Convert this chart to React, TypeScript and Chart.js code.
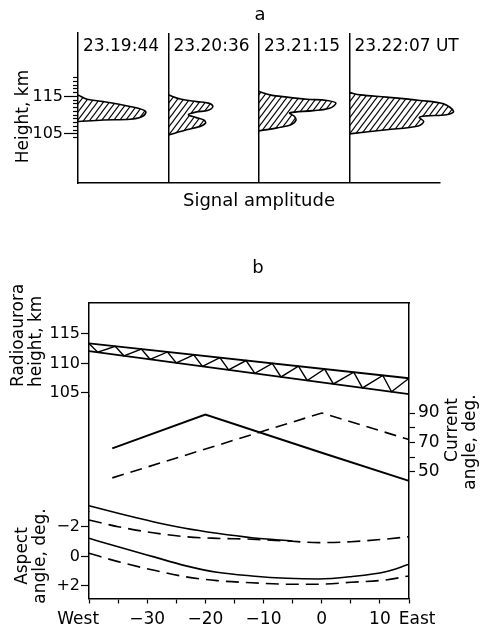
import React, { useEffect, useRef } from 'react';
import { Chart, registerables } from 'chart.js';

Chart.register(...registerables);

const FONT = "'DejaVu Sans', 'Noto Sans', sans-serif";
Chart.defaults.font.family = FONT;
Chart.defaults.color = '#000';

// ---------------- Panel a data ----------------
const timeLabels = ['23.19:44', '23.20:36', '23.21:15', '23.22:07 UT'];
const panelEdges = [0, 1, 2, 3, 4];
const heightTicksA = [104, 105, 106, 107, 108, 109, 110, 111, 112, 113, 114, 115, 116, 117, 118, 119, 120];
const heightLabelsA = [105, 115];

const profile1Amp = [0, 0.1, 0.28, 0.575, 0.72, 0.75, 0.7, 0.575, 0.28, 0];
const profile1Height = [115.4, 114.25, 113.6, 112.3, 111.4, 110.7, 109.5, 108.9, 108.7, 108.3];
const profile2Amp = [0, 0.13, 0.31, 0.44, 0.49, 0.44, 0.3, 0.22, 0.3, 0.39, 0.41, 0.35, 0.2, 0];
const profile2Height = [115.4, 114.3, 113.6, 113.2, 112.3, 111.3, 110.8, 110.1, 109.4, 108.7, 107.9, 107.0, 106.1, 104.7];
const profile3Amp = [0, 0.12, 0.31, 0.53, 0.75, 0.85, 0.78, 0.6, 0.34, 0.39, 0.41, 0.36, 0.2, 0];
const profile3Height = [116.3, 115.4, 114.8, 114.25, 113.9, 113.2, 111.85, 111.2, 110.6, 109.7, 108.7, 107.5, 106.6, 105.8];
const profile4Amp = [0, 0.12, 0.41, 0.78, 1.04, 1.15, 1.07, 0.85, 0.77, 0.82, 0.76, 0.41, 0];
const profile4Height = [116.0, 115.4, 114.8, 113.9, 113.0, 111.0, 110.1, 109.8, 109.4, 108.3, 107.1, 106.1, 105.0];

// ---------------- Panel b data ----------------
const xTicksB = [-40, -35, -30, -25, -20, -15, -10, -5, 0, 5, 10, 15];
const xLabelValuesB = [-40, -30, -20, -10, 0, 10, 15];
const xLabelTextsB = ['West', '\u221230', '\u221220', '\u221210', '0', '10', 'East'];

const heightTicksB = [105, 110, 115];
const currentTicks = [50, 60, 70, 80, 90];
const currentLabels = [50, 70, 90];
const aspectTicks = [-2, 0, 2];
const aspectTickTexts = ['\u22122', '0', '+2'];

const bandX = [-40, 15];
const bandUpper = [113.4, 107.5];
const bandLower = [112.1, 104.8];
const zigX = [-40, -38.5, -35.5, -34, -31, -29.5, -26.5, -25, -22, -20.5, -17.5, -16, -13, -11.5, -8.5, -7, -4, -2.5, 0.5, 2, 5.5, 7, 10.5, 12, 15];
const zigY = [113.4, 111.9, 112.92, 111.3, 112.43, 110.71, 111.95, 110.11, 111.47, 109.51, 110.99, 108.91, 110.5, 108.32, 110.02, 107.72, 109.54, 107.12, 109.06, 106.53, 108.52, 105.86, 107.98, 105.2, 107.5];

const currentSolidX = [-36, -20, 0, 15];
const currentSolid = [66, 89, 63, 44];
const currentDashedX = [-36, 0, 15];
const currentDashed = [46, 90, 72];

const aspectUpperSolidX = [-40, -35, -29, -23.5, -18, -12, -5];
const aspectUpperSolid = [-3.44, -2.93, -2.36, -1.91, -1.57, -1.27, -1.05];
const aspectX = [-40, -35, -29, -23.5, -18, -12, -6, -0.5, 5, 11, 15];
const aspectUpperDashed = [-2.47, -2.02, -1.61, -1.34, -1.23, -1.17, -1.05, -0.94, -1.0, -1.18, -1.34];
const aspectLowerSolid = [-1.23, -0.66, 0.01, 0.62, 1.07, 1.32, 1.48, 1.53, 1.37, 1.03, 0.53];
const aspectLowerDashed = [-0.22, 0.35, 0.92, 1.37, 1.64, 1.78, 1.88, 1.88, 1.75, 1.59, 1.32];

type TextItem = { text: string; x: number; y: number; rot?: number; align?: CanvasTextAlign; size?: number };

function textPlugin(id: string, items: (chart: any) => TextItem[]) {
  return {
    id,
    afterDraw(chart: any) {
      const ctx = chart.ctx as CanvasRenderingContext2D;
      for (const it of items(chart)) {
        ctx.save();
        ctx.translate(it.x, it.y);
        if (it.rot) ctx.rotate(it.rot);
        ctx.font = `${it.size ?? 17}px ${FONT}`;
        ctx.fillStyle = '#000';
        ctx.textAlign = it.align ?? 'center';
        ctx.textBaseline = 'middle';
        ctx.fillText(it.text, 0, 0);
        ctx.restore();
      }
    },
  };
}

function makeHatch(ctx: CanvasRenderingContext2D): CanvasPattern | string {
  const c = document.createElement('canvas');
  c.width = 6;
  c.height = 8;
  const g = c.getContext('2d')!;
  g.strokeStyle = '#000';
  g.lineWidth = 1.1;
  for (const dx of [-6, 0, 6]) {
    g.beginPath();
    g.moveTo(dx - 3, 12);
    g.lineTo(dx + 9, -4);
    g.stroke();
  }
  return ctx.createPattern(c, 'repeat') ?? '#999';
}

const pts = (xs: number[], ys: number[]) => xs.map((x, i) => ({ x, y: ys[i] }));
const TRANSPARENT = 'rgba(0,0,0,0)';

function configA(hatch: CanvasPattern | string): any {
  const profiles = [
    [profile1Amp, profile1Height],
    [profile2Amp, profile2Height],
    [profile3Amp, profile3Height],
    [profile4Amp, profile4Height],
  ];
  const datasets = profiles.map(([amp, h], i) => ({
    data: amp.map((a, k) => ({ x: i + a, y: h[k] })),
    borderColor: '#000',
    borderWidth: 1.6,
    backgroundColor: hatch,
    fill: 'shape',
    tension: 0.35,
    pointRadius: 0,
    clip: false,
    xAxisID: 'x',
    yAxisID: 'y',
  }));
  return {
    type: 'line',
    data: { datasets },
    options: {
      animation: false,
      responsive: false,
      devicePixelRatio: 1,
      layout: { padding: { top: 33, right: 23, left: 0, bottom: 0 } },
      plugins: { legend: { display: false }, tooltip: { enabled: false } },
      scales: {
        x: {
          type: 'linear',
          position: 'bottom',
          min: 0,
          max: 4,
          stack: 'a',
          stackWeight: 362,
          afterBuildTicks: (s: any) => {
            s.ticks = panelEdges.map((v) => ({ value: v }));
          },
          ticks: { display: false },
          grid: {
            drawTicks: false,
            lineWidth: 1.5,
            color: (c: any) => (c.tick && c.tick.value > 0 && c.tick.value < 4 ? '#000' : TRANSPARENT),
          },
          border: { display: true, color: '#000', width: 1.5 },
          title: { display: true, text: 'Signal amplitude', font: { family: FONT, size: 18 }, color: '#000', padding: 0 },
          afterFit: (s: any) => {
            s.height = 29;
          },
        },
        x2: {
          type: 'linear',
          position: 'bottom',
          min: 0,
          max: 1,
          stack: 'a',
          stackWeight: 20,
          ticks: { display: false },
          grid: { display: false, drawTicks: false },
          border: { display: false },
          afterFit: (s: any) => {
            s.height = 0;
          },
        },
        y: {
          type: 'linear',
          position: 'left',
          min: 91.9,
          max: 131.9,
          afterBuildTicks: (s: any) => {
            s.ticks = heightTicksA.map((v) => ({ value: v }));
          },
          ticks: {
            autoSkip: false,
            padding: 1,
            font: { family: FONT, size: 16 },
            color: '#000',
            callback: (v: number) => (heightLabelsA.includes(v) ? String(v) : ''),
          },
          grid: {
            drawOnChartArea: false,
            tickLength: 14,
            tickColor: '#000',
            tickWidth: 1.2,
            tickBorderDash: (c: any) => (c.tick && heightLabelsA.includes(c.tick.value) ? [] : [5, 9]),
            tickBorderDashOffset: (c: any) => (c.tick && heightLabelsA.includes(c.tick.value) ? 0 : 5),
          },
          border: { color: '#000', width: 1.5 },
          afterFit: (s: any) => {
            s.width = 78;
          },
        },
      },
    },
    plugins: [
      textPlugin('textsA', (chart) => {
        const xs = chart.scales.x;
        const items: TextItem[] = [{ text: 'a', x: 260, y: 15, size: 18 }];
        timeLabels.forEach((t, i) => {
          items.push({ text: t, x: xs.getPixelForValue(i) + 5, y: 47, align: 'left', size: 17 });
        });
        items.push({ text: 'Height, km', x: 24, y: 116.5, rot: -Math.PI / 2, size: 17 });
        return items;
      }),
    ],
  };
}

function configB(): any {
  const line = (data: any[], yAxisID: string, extra: any = {}) => ({
    data,
    yAxisID,
    xAxisID: 'x',
    borderColor: '#000',
    borderWidth: 1.6,
    pointRadius: 0,
    fill: false,
    tension: 0,
    clip: false,
    ...extra,
  });
  const datasets = [
    line(pts(bandX, bandUpper), 'yH', { borderWidth: 1.8 }),
    line(pts(bandX, bandLower), 'yH', { borderWidth: 1.8 }),
    line(pts(zigX, zigY), 'yH', { borderWidth: 1.4 }),
    line(pts(currentSolidX, currentSolid), 'yC', { borderWidth: 2 }),
    line(pts(currentDashedX, currentDashed), 'yC', { borderDash: [12, 7] }),
    line(pts(aspectUpperSolidX, aspectUpperSolid), 'yA', { cubicInterpolationMode: 'monotone' }),
    line(pts(aspectX, aspectUpperDashed), 'yA', { cubicInterpolationMode: 'monotone', borderDash: [13, 7] }),
    line(pts(aspectX, aspectLowerSolid), 'yA', { cubicInterpolationMode: 'monotone' }),
    line(pts(aspectX, aspectLowerDashed), 'yA', { cubicInterpolationMode: 'monotone', borderDash: [13, 7] }),
  ];
  const leftCommon = (width: number) => ({
    type: 'linear',
    position: 'left',
    stack: 'L',
    border: { color: '#000', width: 1.5 },
    afterFit: (s: any) => {
      s.width = width;
    },
  });
  return {
    type: 'line',
    data: { datasets },
    options: {
      animation: false,
      responsive: false,
      devicePixelRatio: 1,
      layout: { padding: { top: 91, right: 0, left: 0, bottom: 0 } },
      plugins: { legend: { display: false }, tooltip: { enabled: false } },
      scales: {
        x: {
          type: 'linear',
          position: 'bottom',
          min: -40,
          max: 15,
          afterBuildTicks: (s: any) => {
            s.ticks = xTicksB.map((v) => ({ value: v }));
          },
          ticks: {
            autoSkip: false,
            maxRotation: 0,
            minRotation: 0,
            padding: 6,
            font: { family: FONT, size: 17 },
            color: '#000',
            callback: (v: number) => {
              const i = xLabelValuesB.indexOf(v);
              if (i < 0) return '';
              if (v === -40) return xLabelTextsB[i] + '    ';
              if (v === 15) return '   ' + xLabelTextsB[i];
              return xLabelTextsB[i];
            },
          },
          grid: { drawOnChartArea: false, tickLength: 5, tickColor: '#000', tickWidth: 1.2 },
          border: { color: '#000', width: 1.5 },
          afterFit: (s: any) => {
            s.height = 31.5;
          },
        },
        xTop: {
          type: 'linear',
          position: 'top',
          min: -40,
          max: 15,
          ticks: { display: false },
          grid: { drawOnChartArea: false, drawTicks: false },
          border: { color: '#000', width: 1.5 },
          afterFit: (s: any) => {
            s.height = 0;
          },
        },
        yH: {
          ...leftCommon(89),
          weight: 3,
          stackWeight: 93,
          min: 104.49,
          max: 120.25,
          afterBuildTicks: (s: any) => {
            s.ticks = heightTicksB.map((v) => ({ value: v }));
          },
          ticks: { autoSkip: false, padding: 1, font: { family: FONT, size: 16 }, color: '#000' },
          grid: { drawOnChartArea: false, tickLength: 8, tickColor: '#000', tickWidth: 1.2 },
        },
        yMid: {
          ...leftCommon(89),
          weight: 2,
          stackWeight: 115.5,
          min: 0,
          max: 1,
          ticks: { display: false },
          grid: { drawOnChartArea: false, drawTicks: false },
        },
        yA: {
          ...leftCommon(89),
          weight: 1,
          stackWeight: 87,
          min: -3.05,
          max: 2.85,
          reverse: true,
          afterBuildTicks: (s: any) => {
            s.ticks = aspectTicks.map((v) => ({ value: v }));
          },
          ticks: {
            autoSkip: false,
            padding: 1,
            font: { family: FONT, size: 16 },
            color: '#000',
            callback: (v: number) => {
              const i = aspectTicks.indexOf(v);
              return i < 0 ? '' : aspectTickTexts[i];
            },
          },
          grid: { drawOnChartArea: false, tickLength: 8, tickColor: '#000', tickWidth: 1.2 },
        },
        yC: {
          type: 'linear',
          position: 'right',
          min: -35.8,
          max: 164.6,
          afterBuildTicks: (s: any) => {
            s.ticks = currentTicks.map((v) => ({ value: v }));
          },
          ticks: {
            autoSkip: false,
            padding: 3,
            font: { family: FONT, size: 17 },
            color: '#000',
            callback: (v: number) => (currentLabels.includes(v) ? String(v) : ''),
          },
          grid: { drawOnChartArea: false, tickLength: 6, tickColor: '#000', tickWidth: 1.2 },
          border: { color: '#000', width: 1.5 },
          afterFit: (s: any) => {
            s.width = 74;
          },
        },
      },
    },
    plugins: [
      textPlugin('textsB', () => [
        { text: 'b', x: 258, y: 56, size: 18 },
        { text: 'Radioaurora', x: 19, y: 175, rot: -Math.PI / 2, align: 'left', size: 17 },
        { text: 'height, km', x: 37, y: 175, rot: -Math.PI / 2, align: 'left', size: 17 },
        { text: 'Aspect', x: 23, y: 344, rot: -Math.PI / 2, size: 17 },
        { text: 'angle, deg.', x: 41, y: 344, rot: -Math.PI / 2, size: 17 },
        { text: 'Current', x: 453, y: 218, rot: -Math.PI / 2, size: 17 },
        { text: 'angle, deg.', x: 471, y: 230, rot: -Math.PI / 2, size: 17 },
      ]),
    ],
  };
}

export default function App() {
  const refA = useRef<HTMLCanvasElement>(null);
  const refB = useRef<HTMLCanvasElement>(null);
  useEffect(() => {
    const ca = refA.current!;
    const cb = refB.current!;
    const hatch = makeHatch(ca.getContext('2d')!);
    const chartA = new Chart(ca, configA(hatch));
    const chartB = new Chart(cb, configB());
    return () => {
      chartA.destroy();
      chartB.destroy();
    };
  }, []);
  return (
    <div style={{ position: 'absolute', left: 0, top: 0, width: 483, height: 630, background: '#fff', overflow: 'hidden' }}>
      <canvas ref={refA} width={483} height={212} style={{ position: 'absolute', left: 0, top: 0, display: 'block' }} />
      <canvas ref={refB} width={483} height={418} style={{ position: 'absolute', left: 0, top: 212, display: 'block' }} />
    </div>
  );
}
